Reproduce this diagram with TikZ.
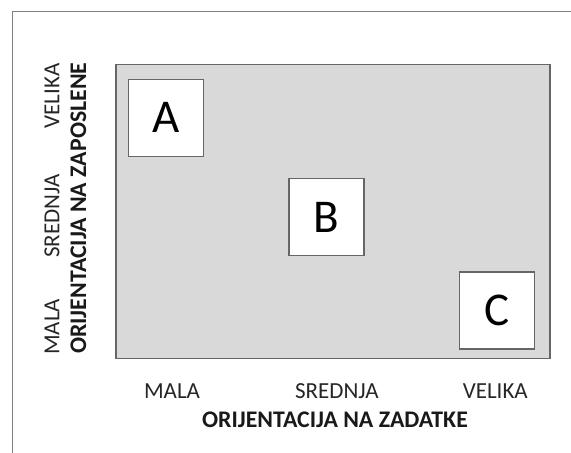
\documentclass[tikz,border=0pt]{standalone}
\usepackage{fontspec}
\setmainfont{Carlito}
\begin{document}
\begin{tikzpicture}[x=1pt, y=-1pt]
    % Definizione stili
    \tikzstyle{cornice}=[draw=black!50, line width=1.3pt]
    \tikzstyle{pannello}=[draw=black!60, fill=black!15, line width=1.3pt, minimum width=434pt, minimum height=294pt, inner sep=0pt]
    \tikzstyle{stile}=[draw=black!60, fill=white, line width=1.1pt, minimum width=75pt, minimum height=77pt, inner sep=0pt, font=\fontsize{47}{47}\selectfont]
    \tikzstyle{livello}=[inner sep=0pt, text=black!85, font=\fontsize{23}{26}\selectfont]
    \tikzstyle{asse}=[inner sep=0pt, text=black!90, font=\fontsize{23.8}{26}\selectfont\bfseries]

    \useasboundingbox (0,0) rectangle (571,453);

    % Cornice
    \coordinate (cornice_basso) at (12.7,453);
    \coordinate (cornice_angolo) at (12.7,11.7);
    \coordinate (cornice_destra) at (571,11.7);
    \draw[cornice] (cornice_basso) -- (cornice_angolo) -- (cornice_destra);

    % Pannello grigio
    \node[pannello] (griglia) at (332.9,211.3) {};

    % Stili di leadership
    \node[stile] (stile_a) at (165.8,117.8) {A};
    \node[stile] (stile_b) at (326.5,217.3) {B};
    \node[stile] (stile_c) at (497.3,310.5) {C};

    % Asse orizzontale
    \node[livello, anchor=base] (zad_mala) at (172,398.3) {MALA};
    \node[livello, anchor=base] (zad_srednja) at (336.9,398.3) {SREDNJA};
    \node[livello, anchor=base] (zad_velika) at (495.3,398.3) {VELIKA};
    \node[asse, anchor=base] (asse_zadatke) at (335,427.3) {ORIJENTACIJA NA ZADATKE};

    % Asse verticale
    \node[livello, anchor=base, rotate=90] (zap_mala) at (59.3,326.7) {MALA};
    \node[livello, anchor=base, rotate=90] (zap_srednja) at (59.3,216) {SREDNJA};
    \node[livello, anchor=base, rotate=90] (zap_velika) at (59.3,95.8) {VELIKA};
    \node[asse, anchor=base, rotate=90] (asse_zaposlene) at (86,208.3) {ORIJENTACIJA NA ZAPOSLENE};
\end{tikzpicture}
\end{document}
